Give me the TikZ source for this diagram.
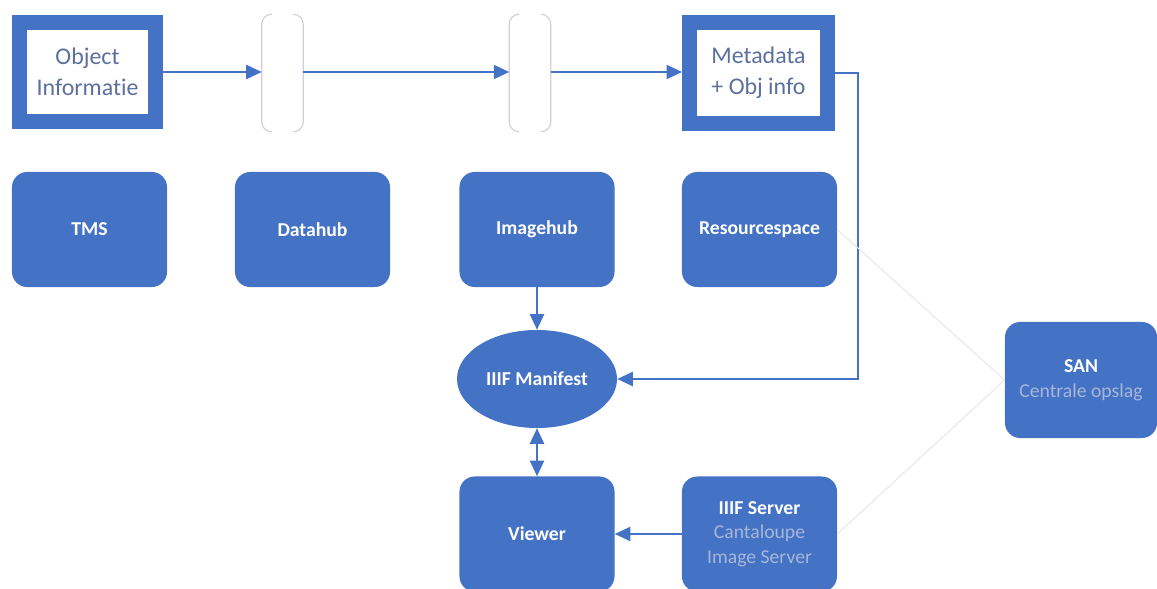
\documentclass[tikz,border=0pt]{standalone}
\usepackage{fontspec}
\setmainfont{Carlito}[Ligatures=NoCommon]
\usetikzlibrary{arrows.meta,shapes.geometric}
\definecolor{boxblue}{HTML}{4472C4}
\definecolor{txtblue}{HTML}{5C6F9E}
\definecolor{subtxt}{HTML}{A7B6D9}
\definecolor{hubgray}{HTML}{D0D0D0}
\definecolor{linkgray}{HTML}{E6E6E6}

\tikzset{
  infobox/.style={draw=boxblue, line width=10.6pt, fill=white, align=center,
    text=txtblue, font=\fontsize{17}{22}\selectfont, inner sep=0pt},
  sysbox/.style={fill=boxblue, rounded corners=0.38cm, minimum width=3.875cm,
    minimum height=2.875cm, align=center, text=white,
    font=\bfseries\fontsize{14}{17.5}\selectfont},
  hubslot/.style={minimum width=1.025cm, minimum height=2.925cm, inner sep=0pt},
  hubline/.style={draw=hubgray, line width=0.8pt, rounded corners=0.25cm},
  flow/.style={draw=boxblue, line width=1.4pt, -{Triangle[length=11pt,width=10pt]}},
  link/.style={draw=linkgray, line width=0.7pt}
}

\begin{document}
\begin{tikzpicture}[x=0.025cm,y=-0.025cm]
  \useasboundingbox (0,0) rectangle (1157,589);

  % bovenste rij: informatie en doorgeefluiken
  \node[infobox, minimum width=3.4cm, minimum height=2.475cm] (obj) at (87.5,72) {Object\\Informatie};
  \node[hubslot] (hub1) at (282.5,73) {};
  \node[hubslot] (hub2) at (530,73) {};
  \node[infobox, minimum width=3.45cm, minimum height=2.525cm] (meta) at (758.5,73) {Metadata\\+ Obj info};

  \foreach \h in {hub1,hub2} {
    \draw[hubline] ([xshift=0.25cm]\h.north west) -- (\h.north west) -- (\h.south west) -- ([xshift=0.25cm]\h.south west);
    \draw[hubline] ([xshift=-0.25cm]\h.north east) -- (\h.north east) -- (\h.south east) -- ([xshift=-0.25cm]\h.south east);
  }

  % systemen
  \node[sysbox] (tms) at (89.5,229.5) {TMS};
  \node[sysbox] (dhub) at (312.5,229.5) {Datahub};
  \node[sysbox] (ihub) at (537,229.5) {Imagehub};
  \node[sysbox] (rspace) at (759.5,229.5) {Resourcespace};

  \node[ellipse, fill=boxblue, minimum width=4cm, minimum height=2.45cm, text=white,
    font=\bfseries\fontsize{14}{17}\selectfont] (manifest) at (537,379) {IIIF Manifest};

  \node[sysbox] (viewer) at (537,534) {Viewer};
  \node[sysbox] (iiif) at (759.5,534) {IIIF Server\\{\normalfont\color{subtxt}Cantaloupe}\\{\normalfont\color{subtxt}Image Server}};
  \node[sysbox, minimum width=3.8cm, minimum height=2.9cm] (san) at (1081,380) {SAN\\{\normalfont\color{subtxt}Centrale opslag}};

  \coordinate (bend) at (858,379);

  % stromen
  \draw[flow] (obj.east) -- (obj.east -| hub1.west);
  \draw[flow] (hub1.east |- obj.east) -- (obj.east -| hub2.west);
  \draw[flow] (hub2.east |- obj.east) -- (obj.east -| meta.west);
  \draw[flow] (meta.east) -| (bend) -- (manifest.east);
  \draw[flow] (ihub) -- (manifest);
  \draw[flow, {Triangle[length=11pt,width=10pt]}-{Triangle[length=11pt,width=10pt]}] (manifest) -- (viewer);
  \draw[flow] (iiif) -- (viewer);

  \draw[link] (rspace.east) -- (san.west);
  \draw[link] (iiif.east) -- (san.west);
\end{tikzpicture}
\end{document}
